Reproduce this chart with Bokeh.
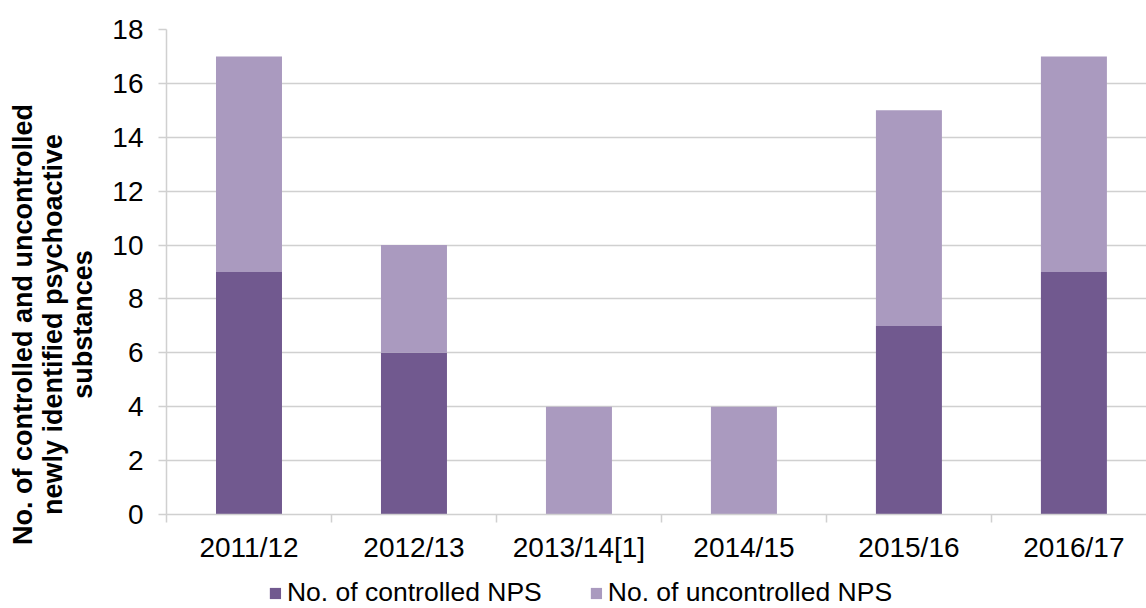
from bokeh.plotting import figure
from bokeh.layouts import column
from bokeh.models import (ColumnDataSource, Range1d, FixedTicker, CustomJSTickFormatter,
                          Legend, LegendItem)
from bokeh.embed import file_html
from bokeh.resources import INLINE

categories = ["2011/12", "2012/13", "2013/14[1]", "2014/15", "2015/16", "2016/17"]
controlled = [9, 6, 0, 0, 7, 9]
uncontrolled = [8, 4, 4, 4, 8, 8]
series_names = ["No. of controlled NPS", "No. of uncontrolled NPS"]
y_ticks = [0, 2, 4, 6, 8, 10, 12, 14, 16, 18]
y_title_lines = ["No. of controlled and uncontrolled", "newly identified psychoactive", "substances"]

DARK = "#71598F"
LIGHT = "#AA9ABF"
GRID = "#D0D0D0"
FONT = "Liberation Sans"
PAD = "\u00a0" * 14  # shifts the centred y title down towards the chart-area centre

xs = [i + 0.5 for i in range(len(categories))]
source = ColumnDataSource(dict(x=xs, controlled=controlled, uncontrolled=uncontrolled))

# ---------------- main chart ----------------
p = figure(width=1146, height=572, output_backend="svg", toolbar_location=None,
           x_range=Range1d(0, 5.94), y_range=Range1d(0, 18),
           min_border_left=166, min_border_right=0, min_border_top=29, min_border_bottom=58)
p.outline_line_color = None
p.background_fill_color = "white"
p.border_fill_color = "white"

rs = p.vbar_stack(["controlled", "uncontrolled"], x="x", width=0.4, color=[DARK, LIGHT],
                  line_color=None, source=source)

# x axis
p.xaxis.ticker = FixedTicker(ticks=xs, minor_ticks=list(range(len(categories) + 1)))
p.xaxis.formatter = CustomJSTickFormatter(args=dict(labels=categories),
                                          code="return labels[Math.round(tick - 0.5)];")
p.xaxis.major_tick_out = 0
p.xaxis.major_tick_in = 0
p.xaxis.minor_tick_out = 8
p.xaxis.minor_tick_in = 0
p.xaxis.minor_tick_line_color = GRID
p.xaxis.minor_tick_line_width = 1.5
p.xaxis.axis_line_color = GRID
p.xaxis.axis_line_width = 1.5
p.xaxis.major_label_text_font = FONT
p.xaxis.major_label_text_font_size = "28px"
p.xaxis.major_label_text_color = "black"
p.xaxis.major_label_standoff = 9

# y axis
p.yaxis.ticker = FixedTicker(ticks=y_ticks)
p.yaxis.major_tick_out = 8
p.yaxis.major_tick_in = 0
p.yaxis.minor_tick_line_color = None
p.yaxis.major_tick_line_color = GRID
p.yaxis.major_tick_line_width = 1.5
p.yaxis.axis_line_color = GRID
p.yaxis.axis_line_width = 1.5
p.yaxis.major_label_text_font = FONT
p.yaxis.major_label_text_font_size = "28px"
p.yaxis.major_label_text_color = "black"
p.yaxis.major_label_standoff = 15
p.yaxis.axis_label = "\n".join(line + PAD for line in y_title_lines)
p.yaxis.axis_label_text_font = FONT
p.yaxis.axis_label_text_font_size = "27px"
p.yaxis.axis_label_text_font_style = "bold"
p.yaxis.axis_label_text_color = "black"
p.yaxis.axis_label_text_line_height = 1.0
p.yaxis.axis_label_standoff = 11

p.xgrid.grid_line_color = None
p.ygrid.grid_line_color = GRID
p.ygrid.grid_line_width = 1.5
p.ygrid.ticker = FixedTicker(ticks=y_ticks)

# ---------------- legend strip ----------------
p2 = figure(width=994, height=36, output_backend="svg", toolbar_location=None,
            x_range=Range1d(0, 5.94), y_range=Range1d(100, 101),
            x_axis_location=None, y_axis_location=None,
            min_border_left=166, min_border_right=0, min_border_top=0, min_border_bottom=0)
p2.outline_line_color = None
p2.grid.grid_line_color = None
p2.background_fill_color = "white"
p2.border_fill_color = "white"
rs2 = p2.vbar_stack(["controlled", "uncontrolled"], x="x", width=0.4, color=[DARK, LIGHT],
                    line_color=None, source=source)

legend = Legend(items=[LegendItem(label=series_names[i], renderers=[rs2[i]]) for i in range(2)],
                orientation="horizontal", location="bottom_center",
                padding=0, margin=0, spacing=47, label_standoff=5,
                glyph_width=14, glyph_height=14,
                label_text_font=FONT, label_text_font_size="26.5px",
                label_text_color="black", border_line_color=None,
                background_fill_alpha=0)
p2.add_layout(legend)

layout = column(p, p2, spacing=0)
open("out.html", "w").write(file_html(layout, INLINE))
